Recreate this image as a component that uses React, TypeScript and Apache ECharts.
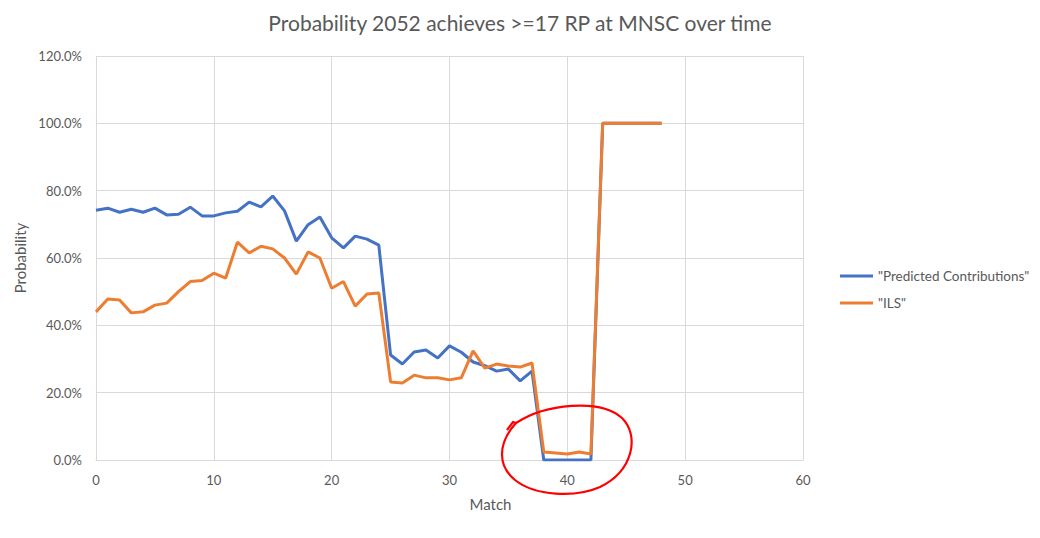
import React, { useEffect, useRef } from "react";
import * as echarts from "echarts";

const TITLE = "Probability 2052 achieves >=17 RP at MNSC over time";
const X_NAME = "Match";
const Y_NAME = "Probability";
const SERIES_NAMES = ['"Predicted Contributions"', '"ILS"'];

const matches = [
  0, 1, 2, 3, 4, 5, 6, 7, 8, 9, 10, 11, 12, 13, 14, 15, 16, 17, 18, 19, 20,
  21, 22, 23, 24, 25, 26, 27, 28, 29, 30, 31, 32, 33, 34, 35, 36, 37, 38, 39,
  40, 41, 42, 43, 44, 45, 46, 47, 48,
];

const predicted = [
  74.2, 74.8, 73.6, 74.5, 73.6, 74.8, 72.8, 73.0, 75.1, 72.5, 72.5, 73.4,
  73.9, 76.6, 75.2, 78.4, 74.0, 65.0, 69.9, 72.2, 66.0, 63.0, 66.5, 65.6,
  63.8, 31.2, 28.5, 32.1, 32.7, 30.3, 33.9, 32.0, 29.1, 28.0, 26.4, 27.0,
  23.5, 26.4, 0, 0, 0, 0, 0, 100, 100, 100, 100, 100, 100,
];

const ils = [
  44.0, 47.8, 47.5, 43.7, 44.0, 46.0, 46.6, 50.0, 53.0, 53.3, 55.5, 54.0,
  64.7, 61.5, 63.5, 62.7, 60.0, 55.2, 61.8, 60.0, 51.0, 53.0, 45.7, 49.3,
  49.6, 23.2, 22.9, 25.2, 24.4, 24.4, 23.8, 24.4, 32.4, 27.3, 28.5, 27.9,
  27.6, 28.8, 2.4, 2.1, 1.8, 2.4, 1.8, 100, 100, 100, 100, 100, 100,
];

const CIRCLE_D =
  "M 507 430 L 513 422 L 516 423 C 545 404 600 398 622 418 C 640 436 633 471 600 487 C 575 498 535 496 515 480 C 498 466 497 444 516 423";

let registered = false;

export default function App() {
  const ref = useRef<HTMLDivElement>(null);

  useEffect(() => {
    document.body.style.margin = "0";
    if (!registered) {
      echarts.graphic.registerShape(
        "redCircle",
        echarts.graphic.extendPath(CIRCLE_D, {}) as any
      );
      registered = true;
    }
    const chart = echarts.init(ref.current!, null, { renderer: "svg" });
    const font = "Lato, 'Liberation Sans', sans-serif";
    const grey = "#595959";
    chart.setOption({
      animation: false,
      color: ["#4472C4", "#ED7D31"],
      textStyle: { fontFamily: font },
      title: {
        text: TITLE,
        left: "center",
        top: 7,
        textStyle: {
          fontFamily: font,
          fontSize: 21,
          fontWeight: "normal",
          color: grey,
        },
      },
      legend: {
        orient: "vertical",
        left: 835,
        top: 264,
        itemWidth: 33,
        itemHeight: 3,
        itemGap: 13,
        icon: "rect",
        textStyle: { fontFamily: font, fontSize: 13.5, color: grey },
        data: SERIES_NAMES,
      },
      grid: { left: 96, right: 237, top: 56, bottom: 78, containLabel: false },
      xAxis: {
        type: "value",
        min: 0,
        max: 60,
        interval: 10,
        name: X_NAME,
        nameLocation: "middle",
        nameGap: 36,
        nameTextStyle: {
          fontFamily: font,
          fontSize: 15,
          color: grey,
          padding: [0, 0, 0, 82],
        },
        axisLine: { show: true, lineStyle: { color: "#d9d9d9", width: 1 } },
        axisTick: { show: false },
        axisLabel: { fontFamily: font, fontSize: 13, color: grey, margin: 13 },
        splitLine: { show: true, lineStyle: { color: "#d9d9d9", width: 1 } },
      },
      yAxis: {
        type: "value",
        min: 0,
        max: 120,
        interval: 20,
        name: Y_NAME,
        nameLocation: "middle",
        nameGap: 64,
        nameRotate: 90,
        nameTextStyle: { fontFamily: font, fontSize: 15, color: grey },
        axisLine: { show: false },
        axisTick: { show: false },
        axisLabel: {
          fontFamily: font,
          fontSize: 13,
          color: grey,
          margin: 14,
          formatter: (v: number) => v.toFixed(1) + "%",
        },
        splitLine: { show: true, lineStyle: { color: "#d9d9d9", width: 1 } },
      },
      series: [
        {
          name: SERIES_NAMES[0],
          type: "line",
          symbol: "none",
          lineStyle: { width: 3 },
          data: matches.map((m, i) => [m, predicted[i]]),
        },
        {
          name: SERIES_NAMES[1],
          type: "line",
          symbol: "none",
          lineStyle: { width: 3 },
          data: matches.map((m, i) => [m, ils[i]]),
        },
      ],
      graphic: [
        {
          type: "redCircle",
          x: 0,
          y: 0,
          z: 100,
          style: { fill: "none", stroke: "#FF0000", lineWidth: 2.2 },
        },
      ],
    });
    return () => chart.dispose();
  }, []);

  return <div ref={ref} style={{ width: 1040, height: 538 }} />;
}
